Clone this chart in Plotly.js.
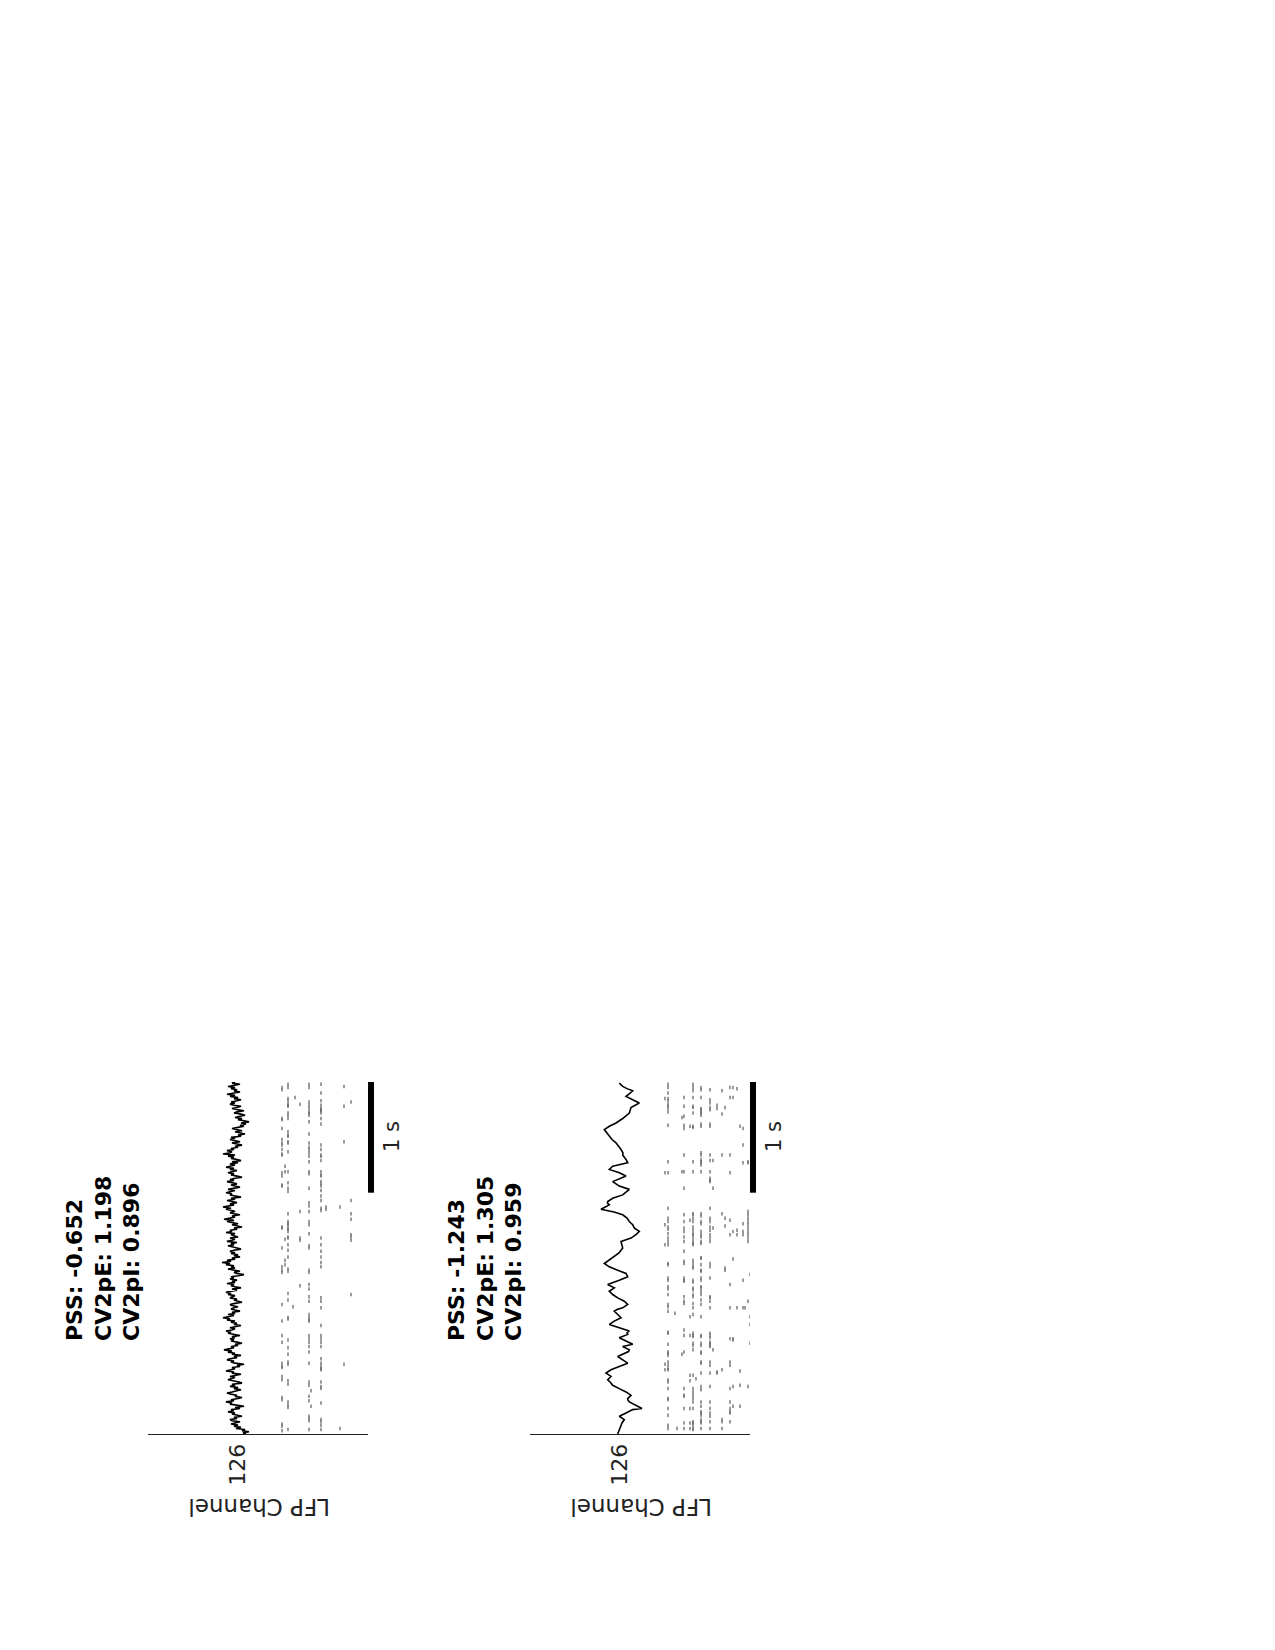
<!DOCTYPE html>
<html>
<head>
<meta charset="utf-8">
<script src="https://cdn.plot.ly/plotly-3.0.1.min.js"></script>
<style>html,body{margin:0;padding:0;background:#fff;}#chart{width:1275px;height:1650px;}</style>
</head>
<body>
<div id="chart"></div>
<script>
// ---------- DATA ----------
const lfpChannel = 126;
const tickLabels = ['126'];
const scaleBarSeconds = 1;
const scaleBarEnd = 3.18;
const timeEnd = 3.18;

const statsPanel1 = ['PSS: -0.652', 'CV2pE: 1.198', 'CV2pI: 0.896'];
const statsPanel2 = ['PSS: -1.243', 'CV2pE: 1.305', 'CV2pI: 0.959'];

// Panel 1 LFP (uniform sampling, 0.01 s)
const lfp1Dt = 0.01;
const lfp1 = [
 -0.8,-0.5,-1.1,-0.4,-0.7,0.2,-0.3,0.4,0.0,0.7,0.3,-0.2,0.6,0.8,0.1,0.4,-0.4,0.0,0.6,0.3,
 1.0,0.4,0.7,-0.2,0.3,-0.6,0.1,0.8,0.6,1.2,0.4,0.7,0.0,-0.4,0.3,0.1,0.7,1.1,0.6,0.1,
 -0.3,0.4,0.0,0.8,0.3,0.6,-0.4,-0.1,0.4,1.0,0.7,0.3,0.8,0.1,-0.3,0.6,0.4,1.2,0.7,0.3,
 0.6,-0.2,0.1,-0.6,0.3,0.7,0.4,1.1,0.8,0.1,0.4,-0.3,0.6,0.3,1.0,0.6,1.4,0.8,0.4,0.7,
 0.0,0.3,-0.4,0.1,0.7,0.4,0.8,0.3,0.6,-0.2,0.4,1.0,0.7,1.2,0.6,0.3,0.8,0.1,-0.3,0.4,
 0.1,0.7,0.3,1.1,0.8,1.5,0.7,0.4,1.0,0.3,0.6,-0.2,0.3,0.7,0.4,0.0,0.6,0.8,0.3,-0.4,
 0.0,0.4,0.1,0.8,0.6,0.3,1.0,0.7,1.2,0.4,0.1,0.6,-0.3,0.3,0.7,0.4,1.1,0.3,0.6,0.1,
 0.8,0.4,0.7,0.0,-0.6,0.1,0.4,-0.2,0.6,1.0,0.3,0.7,0.4,1.2,0.8,1.6,0.7,1.1,0.3,0.6,
 -0.2,0.4,0.0,0.7,0.3,0.8,0.4,-0.3,0.1,0.6,1.0,0.4,0.7,0.1,1.1,0.6,0.3,0.8,0.0,0.4,
 0.7,0.3,1.2,0.6,0.8,0.1,0.4,-0.4,0.3,0.6,0.0,0.7,1.1,0.4,1.4,0.8,0.3,0.6,-0.2,0.4,
 0.8,0.3,0.6,1.2,0.7,1.5,1.0,0.4,0.8,0.1,0.6,1.1,0.3,0.7,-0.3,0.4,0.8,0.6,1.2,0.7,
 0.3,1.0,0.4,-0.2,0.3,0.7,0.1,0.6,1.1,0.4,0.8,0.3,-0.4,0.1,0.7,0.4,1.0,0.6,0.1,0.8,
 0.4,1.2,0.7,0.3,0.8,0.0,0.6,-0.3,0.1,0.7,0.4,1.0,0.3,1.5,0.8,0.6,1.1,0.4,0.7,0.0,
 0.3,-0.4,0.1,0.6,-0.2,0.4,0.8,0.3,0.7,-0.3,0.0,-0.7,-0.2,0.3,-0.4,0.1,0.6,0.0,-0.6,-0.2,
 -0.8,-0.3,-1.1,-0.6,0.0,-0.4,0.3,-0.2,-0.7,-0.3,0.4,0.1,-0.6,0.0,0.6,0.1,-0.3,0.4,0.8,0.3,
 0.7,0.1,-0.3,0.4,0.0,0.8,0.3,1.1,0.6,-0.2,0.4,0.1,0.7,0.3,1.0,0.4,-0.2,0.6,0.3
];

// Panel 2 LFP
const lfp2T = [0.00,0.04,0.08,0.10,0.13,0.16,0.19,0.22,0.23,0.26,0.275,0.29,0.305,0.32,0.35,0.38,0.41,0.44,0.465,0.49,0.52,0.55,0.58,0.595,0.61,0.64,0.655,0.67,0.70,0.73,0.745,0.76,0.79,0.81,0.825,0.84,0.87,0.90,0.915,0.93,0.96,0.99,1.02,1.05,1.08,1.11,1.125,1.14,1.17,1.185,1.20,1.23,1.26,1.29,1.305,1.32,1.35,1.36,1.39,1.42,1.45,1.48,1.50,1.51,1.54,1.57,1.60,1.635,1.68,1.74,1.77,1.80,1.83,1.86,1.89,1.92,1.95,1.98,2.005,2.03,2.07,2.085,2.10,2.13,2.16,2.185,2.21,2.24,2.28,2.33,2.36,2.39,2.42,2.45,2.48,2.52,2.54,2.57,2.63,2.66,2.69,2.75,2.78,2.81,2.85,2.875,2.90,2.95,2.97,2.99,3.02,3.05,3.075,3.10,3.12,3.14,3.17];
const lfp2 = [0.23,0.07,-0.10,-0.20,-0.43,0.07,-0.60,-1.27,-2.20,-1.60,-1.35,-0.93,-0.80,-0.77,-1.10,-0.60,0.07,0.73,0.95,1.23,0.90,1.40,0.90,0.55,0.07,-0.77,-0.45,-0.27,0.23,-0.60,-0.85,-0.93,-0.27,-1.27,-0.90,-0.60,0.07,-0.77,-0.70,-0.93,0.07,1.07,0.57,-0.10,0.23,0.57,0.30,-0.27,-0.77,-0.55,-0.43,0.23,0.73,1.07,0.85,0.57,1.23,0.90,0.07,-0.77,-0.60,0.23,0.70,1.07,1.57,1.07,0.57,0.10,-0.27,-0.10,-1.10,-1.60,-1.93,-1.45,-1.27,-0.93,-0.70,-0.27,0.60,1.90,1.07,1.25,1.23,0.73,-0.27,-0.60,-0.93,0.07,0.73,-0.60,0.07,1.07,0.73,-0.77,-0.60,-0.27,-0.30,-0.10,0.40,0.80,1.07,1.57,1.07,0.40,-0.27,-0.65,-0.93,-1.10,-1.50,-1.93,-1.27,-0.60,-0.95,-1.27,-0.70,-0.27,0.07];

// Panel 1 raster: row positions and spike times (s)
const rows1 = [115, 114.25, 113.5, 112.25, 111.75, 110.5, 108.25, 107.75, 105.25, 104, 100.5, 99.5, 97.75];
const spikes1 = [
 [0.03,0.07,0.09,0.31,0.33,0.49,0.52,0.60,0.61,0.64,0.83,0.89,1.02,1.17,1.46,1.48,1.51,1.68,1.86,1.87,2.24,2.25,2.33,2.36,2.52,2.53,2.57,2.61,2.63,2.66,2.76,2.84,2.85,3.11,3.13],
 [1.53,1.57,1.76,2.37,2.42],
 [0.04,0.24,0.26,0.29,0.45,0.48,0.63,0.65,0.72,0.78,0.85,1.04,1.05,1.21,1.27,1.47,1.49,1.60,1.66,1.71,1.77,1.78,1.83,1.85,1.86,1.89,1.90,1.92,1.99,2.19,2.22,2.27,2.37,2.55,2.63,2.64,2.69,2.70,2.73,2.85,2.88,2.90,2.96,2.97,2.98,3.01,3.03,3.13,3.16],
 [1.15],
 [3.04],
 [1.34,1.75,1.77,2.01,2.98],
 [0.04,0.12,0.14,0.16,0.30,0.34,0.44,0.47,0.64,0.74,0.79,0.83,0.86,0.89,1.02,1.03,1.05,1.08,1.20,1.24,1.31,1.35,1.46,1.48,1.68,1.70,1.81,1.89,1.92,2.01,2.06,2.09,2.22,2.35,2.37,2.46,2.51,2.54,2.57,2.59,2.63,2.71,2.82,2.88,2.90,2.91,2.94,2.97,3.00,3.13,3.16],
 [0.25,0.39],
 [0.04,0.08,0.11,0.13,0.28,0.41,0.43,0.47,0.58,0.59,0.61,0.64,0.68,0.79,0.83,0.86,0.89,0.98,1.14,1.20,1.23,1.51,1.55,1.60,1.65,1.71,1.77,2.02,2.04,2.11,2.15,2.20,2.24,2.26,2.28,2.33,2.34,2.37,2.47,2.51,2.52,2.57,2.61,2.80,2.85,2.90,2.92,2.93,2.94,2.97,3.01,3.08,3.16],
 [2.03,2.05],
 [0.05,2.05],
 [0.63,2.64,2.96,3.14],
 [1.26,1.75,1.78,1.80,1.94,1.99,2.11,3.00]
];

// Panel 2 raster
const rows2 = [114.75, 114, 112.25, 111.75, 110.5, 110, 108.5, 107.75, 107, 105.75, 103.5, 102.75, 101.75, 100.5, 99.75, 98.5, 97.75, 96.75, 96, 95.25, 94.75, 94, 93.5];
const spikes2 = [
 [0.58,0.63,1.71,1.89,2.36,3.03],
 [0.05,0.08,0.17,0.23,0.31,0.32,0.41,0.47,0.49,0.58,0.59,0.62,0.65,0.71,0.73,0.74,0.81,0.91,0.92,1.11,1.15,1.17,1.26,1.31,1.33,1.39,1.41,1.53,1.54,1.71,1.74,1.77,1.81,1.85,1.87,1.92,1.95,2.04,2.36,2.46,2.79,2.91,2.94,2.96,2.98,3.01,3.03,3.08,3.13,3.16],
 [1.09],
 [0.05],
 [0.72,2.37,2.86],
 [0.05,0.10,0.23,0.34,0.35,0.41,0.74,0.89,0.94,1.18,1.20,1.24,1.38,1.39,1.41,1.54,1.56,1.65,1.74,1.78,1.83,1.86,1.92,1.98,2.22,2.37,2.52,2.76,2.79,2.87,2.96,3.04],
 [0.05,0.10,0.23,0.48,0.53,0.89,1.06,1.93,2.78],
 [0.04,0.05,0.08,0.10,0.11,0.23,0.29,0.32,0.35,0.38,0.41,0.53,0.76,0.80,0.82,0.88,0.89,0.91,1.08,1.14,1.18,1.24,1.26,1.30,1.32,1.37,1.39,1.50,1.51,1.54,1.57,1.71,1.72,1.74,1.77,1.80,1.81,1.84,1.87,1.92,1.95,1.98,1.99,2.37,2.46,2.77,2.78,2.90,2.95,2.96,3.04,3.10,3.13,3.16],
 [0.50],
 [0.05,0.10,0.11,0.13,0.17,0.19,0.20,0.25,0.29,0.40,0.43,0.55,0.64,0.65,0.73,0.74,0.80,0.82,0.88,0.89,1.06,1.17,1.21,1.26,1.29,1.32,1.33,1.39,1.41,1.47,1.48,1.53,1.59,1.59,1.72,1.74,1.78,1.80,1.83,1.90,1.92,1.97,1.99,2.37,2.43,2.45,2.46,2.48,2.52,2.54,2.78,2.80,2.88,2.90,2.91,2.93,2.94,3.04,3.11,3.13],
 [0.05,0.11,0.16,0.19,0.23,0.29,0.43,0.55,0.62,0.65,0.79,0.80,0.82,0.83,0.87,0.89,0.91,1.14,1.20,1.23,1.24,1.41,1.51,1.54,1.74,1.77,1.80,1.84,1.87,1.92,1.95,2.04,2.28,2.29,2.31,2.37,2.47,2.52,2.78,2.80,2.93,2.95,2.99,3.02,3.11],
 [0.76,1.86,2.22,2.47],
 [0.55,0.56,2.94,2.97],
 [0.05,0.11,0.13,0.58,1.99,2.52,2.89,3.10],
 [1.48,1.50,1.88,1.95,2.95],
 [0.11,0.19,0.20,0.23,0.29,0.41,0.62,0.65,0.86,1.14,1.35,1.80,1.93,2.36,2.52,3.04,3.13],
 [0.25,0.43,0.85,0.86,1.58,1.83,3.04,3.13],
 [1.14,1.80,1.84,3.12],
 [0.25,0.44,0.57,2.78],
 [1.14,1.39,1.80,1.83,1.90,2.45,2.61,2.76],
 [1.14],
 [0.43,1.20,1.74,1.77,1.80,1.83,1.86,1.89,1.92,1.95,1.98,2.01,2.45,2.46],
 [0.82,0.99,1.06,1.44]
];

// ---------- BUILD ----------
const FONT = 'DejaVu Sans, Liberation Sans, sans-serif';
const lfpGain = 2.5; // channel units per LFP unit
function flatten(rows, spikes) {
  const x = [], y = [];
  rows.forEach((r, i) => spikes[i].forEach(t => { x.push(r); y.push(t); }));
  return {x, y};
}
const r1 = flatten(rows1, spikes1);
const r2 = flatten(rows2, spikes2);
const lfp1T = lfp1.map((_, i) => i * lfp1Dt);
const barX = 92.75;

function panelTraces(xa, ya, xb, yb, lt, lv, r) {
  return [
    {type:'scatter', mode:'markers', x:r.x, y:r.y, xaxis:xa, yaxis:ya,
     marker:{symbol:'line-ns', size:2.5, color:'#666', line:{color:'#666', width:1.3}}, hoverinfo:'skip'},
    {type:'scatter', mode:'lines', x:lv.map(v => lfpChannel + lfpGain * v), y:lt, xaxis:xa, yaxis:ya,
     line:{color:'#000', width:1.6}, hoverinfo:'skip'},
    {type:'scatter', mode:'lines', x:[barX, barX], y:[scaleBarEnd - scaleBarSeconds, scaleBarEnd], xaxis:xb, yaxis:yb,
     line:{color:'#000', width:6}, hoverinfo:'skip'}
  ];
}

const data = [].concat(
  panelTraces('x', 'y', 'x3', 'y3', lfp1T, lfp1, r1),
  panelTraces('x2', 'y2', 'x4', 'y4', lfp2T, lfp2, r2)
);

const W = 1275, H = 1650;
const yDom = [(H - 1434) / H, (H - 1082) / H];
function xAxis(d0, d1, anchor) {
  return {domain:[d0 / W, d1 / W], range:[148.5, 93.5], anchor:anchor,
    showline:true, linecolor:'#222', linewidth:1, showgrid:false, zeroline:false,
    tickvals:[lfpChannel], ticktext:tickLabels, tickangle:-90, ticks:'',
    ticklabelstandoff:0, tickfont:{family:FONT, size:22, color:'#222'}, fixedrange:true};
}
function xBarAxis(d0, anchor) {
  // same scale as the data axis (4 px per channel), extended to hold the scale bar
  return {domain:[d0 / W, (d0 + 232) / W], range:[148.5, 90.5], anchor:anchor, visible:false,
    showgrid:false, zeroline:false, fixedrange:true};
}
function yAxis(anchor) {
  return {domain:yDom, range:[0, timeEnd], anchor:anchor, visible:false, showgrid:false, zeroline:false, fixedrange:true};
}
function ann(xpx, ypx, text, angle, size, extra) {
  return Object.assign({xref:'paper', yref:'paper', x:xpx / W, y:1 - ypx / H, text:text,
    textangle:angle, showarrow:false, xanchor:'center', yanchor:'middle',
    font:{family:FONT, size:size, color:'#222'}}, extra || {});
}
const annotations = [
  ann(103, 1259, '<b>' + statsPanel1.join('<br>') + '</b>', -90, 22, {align:'left', font:{family:FONT, size:22, color:'#000'}}),
  ann(485, 1259, '<b>' + statsPanel2.join('<br>') + '</b>', -90, 22, {align:'left', font:{family:FONT, size:22, color:'#000'}}),
  ann(259, 1507, 'LFP Channel', 180, 23),
  ann(641, 1507, 'LFP Channel', 180, 23),
  ann(392, 1137, scaleBarSeconds + ' s', -90, 21),
  ann(774, 1137, scaleBarSeconds + ' s', -90, 21)
];

const layout = {
  width:W, height:H, margin:{l:0, r:0, t:0, b:0},
  paper_bgcolor:'#fff', plot_bgcolor:'rgba(0,0,0,0)', showlegend:false,
  xaxis:xAxis(148, 368, 'y'), yaxis:yAxis('x'),
  xaxis2:xAxis(530, 750, 'y2'), yaxis2:yAxis('x2'),
  xaxis3:xBarAxis(148, 'y3'), yaxis3:yAxis('x3'),
  xaxis4:xBarAxis(530, 'y4'), yaxis4:yAxis('x4'),
  annotations:annotations
};
Plotly.newPlot('chart', data, layout, {staticPlot:true});
</script>
</body>
</html>
